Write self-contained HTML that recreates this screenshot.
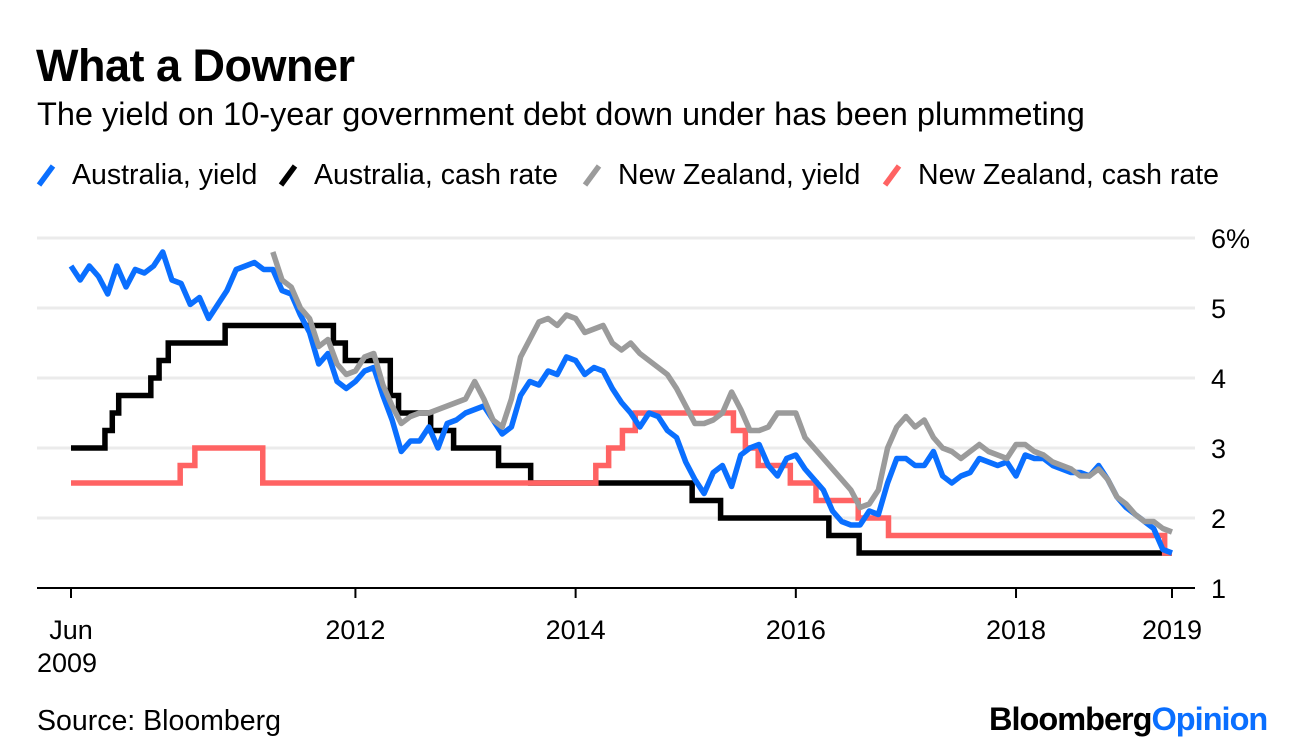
<!DOCTYPE html>
<html><head><meta charset="utf-8"><style>
body{margin:0;width:1296px;height:754px;background:#fff;font-family:"Liberation Sans",sans-serif;overflow:hidden;position:relative}
.t{position:absolute;white-space:nowrap;color:#000}
</style></head><body>
<div class="t" style="left:36px;top:40px;font-size:45px;font-weight:bold;letter-spacing:-0.5px">What a Downer</div>
<div class="t" style="left:37px;top:96px;font-size:32.5px">The yield on 10-year government debt down under has been plummeting</div>
<svg id="c" width="1296" height="754" style="position:absolute;left:0;top:0"></svg>
<div class="t" style="left:37px;top:705px;font-size:28.5px">Source: Bloomberg</div>
<div class="t" style="left:989px;top:701px;font-size:32.5px;font-weight:bold;letter-spacing:-1px">Bloomberg<span style="color:#0a6fff">Opinion</span></div>
<script>
const months=[...Array(121).keys()];
const auYield=[5.6,5.4,5.6,5.45,5.2,5.6,5.3,5.55,5.5,5.6,5.8,5.4,5.35,5.05,5.15,4.85,5.05,5.25,5.55,5.6,5.65,5.55,5.55,5.25,5.2,4.9,4.65,4.2,4.35,3.95,3.85,3.95,4.1,4.15,3.75,3.4,2.95,3.1,3.1,3.3,3.0,3.35,3.4,3.5,3.55,3.6,3.4,3.2,3.3,3.75,3.95,3.9,4.1,4.05,4.3,4.25,4.05,4.15,4.1,3.85,3.65,3.5,3.3,3.5,3.45,3.25,3.15,2.8,2.55,2.35,2.65,2.75,2.45,2.9,3.0,3.05,2.75,2.6,2.85,2.9,2.7,2.55,2.4,2.1,1.95,1.9,1.9,2.1,2.05,2.5,2.85,2.85,2.75,2.75,2.95,2.6,2.5,2.6,2.65,2.85,2.8,2.75,2.8,2.6,2.9,2.85,2.85,2.75,2.7,2.65,2.65,2.6,2.75,2.55,2.3,2.15,2.05,1.95,1.85,1.55,1.5];
const nzStart=22;
const nzYield=[5.8,5.4,5.3,5.0,4.85,4.45,4.55,4.2,4.05,4.1,4.3,4.35,3.9,3.6,3.35,3.45,3.5,3.5,3.55,3.6,3.65,3.7,3.95,3.7,3.4,3.3,3.7,4.3,4.55,4.8,4.85,4.75,4.9,4.85,4.65,4.7,4.75,4.5,4.4,4.5,4.35,4.25,4.15,4.05,3.85,3.6,3.35,3.35,3.4,3.5,3.8,3.55,3.25,3.25,3.3,3.5,3.5,3.5,3.15,3.0,2.85,2.7,2.55,2.4,2.15,2.2,2.4,3.0,3.3,3.45,3.3,3.4,3.15,3.0,2.95,2.85,2.95,3.05,2.95,2.9,2.85,3.05,3.05,2.95,2.9,2.8,2.75,2.7,2.6,2.6,2.7,2.55,2.3,2.2,2.05,1.95,1.95,1.85,1.8];
const auCashMonths=[0,3.7,4.5,5.2,8.7,9.6,10.6,16.8,28.6,29.9,34.8,35.7,39.2,41.7,46.6,50.1,67.7,70.8,82.6,85.9];
const auCashRates=[3.0,3.25,3.5,3.75,4.0,4.25,4.5,4.75,4.5,4.25,3.75,3.5,3.25,3.0,2.75,2.5,2.25,2.0,1.75,1.5];
const nzCashMonths=[0,11.9,13.5,20.9,57.2,58.6,60.1,61.5,72.2,73.5,74.9,78.4,81.2,85.8,89.1,119.2];
const nzCashRates=[2.5,2.75,3.0,2.5,2.75,3.0,3.25,3.5,3.25,3.0,2.75,2.5,2.25,2.0,1.75,1.5];
const endMonth=120;
const yTicks=[1,2,3,4,5,6];
const xTickMonths=[0,31,55,79,103,120];
const xTickLabels=["Jun","2012","2014","2016","2018","2019"];
const legendNames=["Australia, yield","Australia, cash rate","New Zealand, yield","New Zealand, cash rate"];
const colors=["#0a6fff","#000000","#9b9b9b","#ff6363"];

const X=m=>71+m*(1101/120);
const Y=v=>588-(v-1)*70;
const svg=document.getElementById('c');
const NS="http://www.w3.org/2000/svg";
function mk(t,a){const e=document.createElementNS(NS,t);for(const k in a)e.setAttribute(k,a[k]);svg.appendChild(e);return e;}
yTicks.forEach(v=>{
  if(v>1){const g=mk('line',{x1:37,x2:1195,y1:Y(v),y2:Y(v),stroke:'#ebebeb','stroke-width':3});
  
  }
  const t=mk('text',{x:1211,y:Y(v)+10,'font-size':27,'font-family':'Liberation Sans'});
  t.textContent=v===6?'6%':String(v);
  
  
});
const ax=mk('line',{x1:37,x2:1195,y1:588,y2:588,stroke:'#000','stroke-width':2});


xTickMonths.forEach((m,i)=>{
  const tk=mk('line',{x1:X(m),x2:X(m),y1:588,y2:598,stroke:'#000','stroke-width':2});
  
  
  const t=mk('text',{x:X(m),y:639,'font-size':27,'text-anchor':'middle','font-family':'Liberation Sans'});
  t.textContent=xTickLabels[i];
  
  
});
const t2=mk('text',{x:37,y:672,'font-size':27,'font-family':'Liberation Sans'});
t2.textContent='2009';


function line(ms,vs,c,name){
  const p=mk('polyline',{points:ms.map((m,i)=>X(m)+','+Y(vs[i])).join(' '),fill:'none',stroke:c,'stroke-width':5.5,'stroke-linejoin':'round'});
  
  
}
function step(ms,vs,c,name){
  let pts=[];ms.forEach((m,i)=>{if(i>0)pts.push(X(m)+','+Y(vs[i-1]));pts.push(X(m)+','+Y(vs[i]));});
  pts.push(X(endMonth)+','+Y(vs[vs.length-1]));
  const p=mk('polyline',{points:pts.join(' '),fill:'none',stroke:c,'stroke-width':5.5});
  
  
}
step(auCashMonths,auCashRates,colors[1],'australia-cash-rate-line');
step(nzCashMonths,nzCashRates,colors[3],'new-zealand-cash-rate-line');
line(months,auYield,colors[0],'australia-yield-line');
line(nzYield.map((v,i)=>nzStart+i),nzYield,colors[2],'new-zealand-yield-line');
const lx=[37,279,583,883];
legendNames.forEach((n,i)=>{
  const s=mk('line',{x1:lx[i]+2,y1:185,x2:lx[i]+16,y2:166,stroke:colors[i],'stroke-width':5.5});
  
  
  const t=mk('text',{x:lx[i]+35,y:184,'font-size':28.5,'font-family':'Liberation Sans'});
  t.textContent=n;
  
  
});
</script>
</body></html>
